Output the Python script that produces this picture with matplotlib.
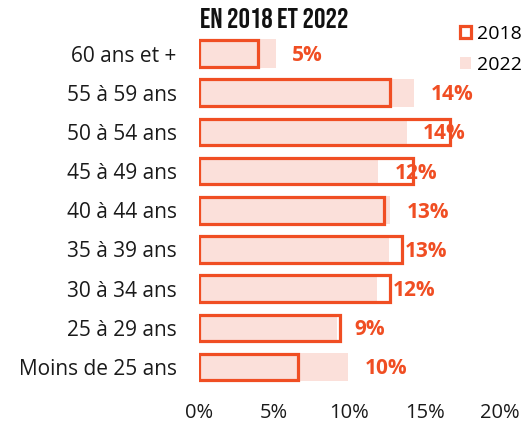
import matplotlib
matplotlib.use("Agg")
import matplotlib.pyplot as plt
from matplotlib.patches import Patch
from matplotlib.ticker import FuncFormatter

plt.rcParams["font.family"] = ["Open Sans", "DejaVu Sans"]

# age groups, top to bottom
groups = ["60 ans et +", "55 à 59 ans", "50 à 54 ans", "45 à 49 ans",
          "40 à 44 ans", "35 à 39 ans", "30 à 34 ans", "25 à 29 ans",
          "Moins de 25 ans"]
share_2018 = [3.9, 12.7, 16.7, 14.2, 12.3, 13.5, 12.7, 9.4, 6.6]
share_2022 = [5.1, 14.3, 13.8, 11.9, 12.7, 12.6, 11.8, 9.2, 9.9]
xticks = [0, 5, 10, 15, 20]

RED = "#F04E23"
PINK = "#FBE0DA"

fig = plt.figure(figsize=(5.25, 4.29), dpi=100)
ax = fig.add_axes([199 / 525, 0.0988, 301 / 525, 0.822])

ypos = list(range(len(groups)))
ax.barh(ypos, share_2022, height=0.72, color=PINK, zorder=1)
ax.barh(ypos, share_2018, height=0.68, facecolor="none", edgecolor=RED,
        linewidth=2.3, zorder=2)

for y, v in zip(ypos, share_2022):
    ax.text(v + 1.1, y + 0.05, f"{round(v):.0f}%", color=RED, fontsize=15,
            fontweight="bold", va="center", ha="left", zorder=3)

ax.set_xlim(0, 20)
ax.set_ylim(len(groups) - 0.5, -0.5)
ax.set_xticks(xticks)
ax.xaxis.set_major_formatter(FuncFormatter(lambda v, _: f"{v:.0f}%"))
ax.set_yticks(ypos)
ax.set_yticklabels(groups)
ax.tick_params(axis="both", length=0, labelsize=15, colors="#1a1a1a")
ax.tick_params(axis="x", labelsize=14.5, pad=12)
ax.tick_params(axis="y", pad=16)
for s in ax.spines.values():
    s.set_visible(False)

fig.text(200 / 525, 1 - 28 / 429, "EN 2018 ET 2022",
         family=["Bebas Neue", "Oswald", "Liberation Sans Narrow", "DejaVu Sans"],
         fontsize=20.5, va="baseline", ha="left", color="#111111")

handles = [Patch(facecolor="white", edgecolor=RED, linewidth=2.3),
           Patch(facecolor=PINK, edgecolor="none")]
fig.legend(handles, ["2018", "2022"], loc="upper right", bbox_to_anchor=(1.028, 0.983),
           frameon=False, fontsize=14, handlelength=0.6, handleheight=0.6,
           handletextpad=0.3, labelspacing=0.68)

fig.savefig("out.png", dpi=100)
